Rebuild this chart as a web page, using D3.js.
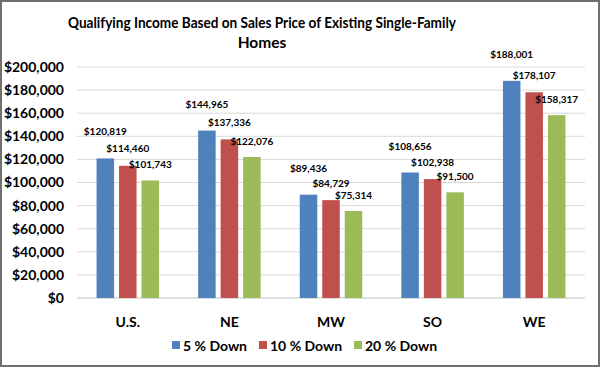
<!DOCTYPE html>
<html><head><meta charset="utf-8">
<script src="https://cdn.jsdelivr.net/npm/d3@7"></script>
<style>body{margin:0;background:#fff}svg{display:block}</style>
</head><body><svg id="c" width="600" height="367"></svg>
<script>
const categories = ["U.S.", "NE", "MW", "SO", "WE"];
const seriesNames = ["5 % Down", "10 % Down", "20 % Down"];
const down5 = [120819, 144965, 89436, 108656, 188001];
const down10 = [114460, 137336, 84729, 102938, 178107];
const down20 = [101743, 122076, 75314, 91500, 158317];
const yTicks = [0, 20000, 40000, 60000, 80000, 100000, 120000, 140000, 160000, 180000, 200000];
const colors = ["#4F81BD", "#C0504D", "#9BBB59"];
const labelOffsets = [23, 13.5, 12.5];

(function(){
const series = [down5, down10, down20];
const svg = d3.select("#c");
const font = "Lato, 'Open Sans', sans-serif";
svg.append("rect").attr("x",1).attr("y",1).attr("width",598).attr("height",365)
  .attr("fill","#fff").attr("stroke","#707070").attr("stroke-width",2);

const pL = 77, pR = 585, pT = 67, pB = 298;
const x = d3.scaleBand().domain(categories).range([pL, pR]);
const y = d3.scaleLinear().domain([0, 200000]).range([pB, pT]);
const bw = 17.5, step = 22.5;

svg.append("g").selectAll("line").data(yTicks).join("line")
  .attr("x1", pL).attr("x2", pR)
  .attr("y1", d => y(d)).attr("y2", d => y(d))
  .attr("stroke", d => d === 0 ? "#bfbfbf" : "#d9d9d9").attr("stroke-width", 1);

svg.append("g").selectAll("text").data(yTicks).join("text")
  .attr("x", 64).attr("y", d => y(d)).attr("dy", "0.35em")
  .attr("text-anchor", "end").attr("font-family", font).attr("font-weight", "bold")
  .attr("font-size", 14).attr("fill", "#000")
  .text(d => "$" + d3.format(",")(d));

series.forEach((s, si) => {
  const g = svg.append("g");
  g.selectAll("rect").data(s).join("rect")
    .attr("x", (d, i) => x(categories[i]) + x.bandwidth()/2 + (si - 1) * step - bw/2)
    .attr("y", d => y(d)).attr("width", bw).attr("height", d => pB - y(d))
    .attr("fill", colors[si]);
  g.selectAll("text").data(s).join("text")
    .attr("x", (d, i) => x(categories[i]) + x.bandwidth()/2 + (si - 1) * step)
    .attr("y", d => y(d) - labelOffsets[si])
    .attr("text-anchor", "middle").attr("font-family", font).attr("font-weight", "bold")
    .attr("font-size", 10).attr("fill", "#000")
    .text(d => "$" + d3.format(",")(d));
});

svg.append("g").selectAll("text").data(categories).join("text")
  .attr("x", d => x(d) + x.bandwidth()/2).attr("y", 327)
  .attr("text-anchor", "middle").attr("font-family", font).attr("font-weight", "bold")
  .attr("font-size", 14).attr("fill", "#000").text(d => d);

const tAttrs = t => t.attr("text-anchor", "middle").attr("font-family", font)
  .attr("font-weight", "bold").attr("font-size", 15.5).attr("fill", "#000");
svg.append("text").call(tAttrs).attr("x", 262).attr("y", 28)
  .attr("textLength", 388).attr("lengthAdjust", "spacingAndGlyphs")
  .text("Qualifying Income Based on Sales Price of Existing Single-Family");
svg.append("text").call(tAttrs).attr("x", 262).attr("y", 48).text("Homes");

const legX = [172, 259, 354];
const leg = svg.append("g");
seriesNames.forEach((n, i) => {
  leg.append("rect").attr("x", legX[i]).attr("y", 341).attr("width", 8).attr("height", 8).attr("fill", colors[i]);
  leg.append("text").attr("x", legX[i] + 11).attr("y", 350.5).attr("font-family", font)
    .attr("font-weight", "bold").attr("font-size", 14).attr("fill", "#000").text(n);
});
})();
</script></body></html>
